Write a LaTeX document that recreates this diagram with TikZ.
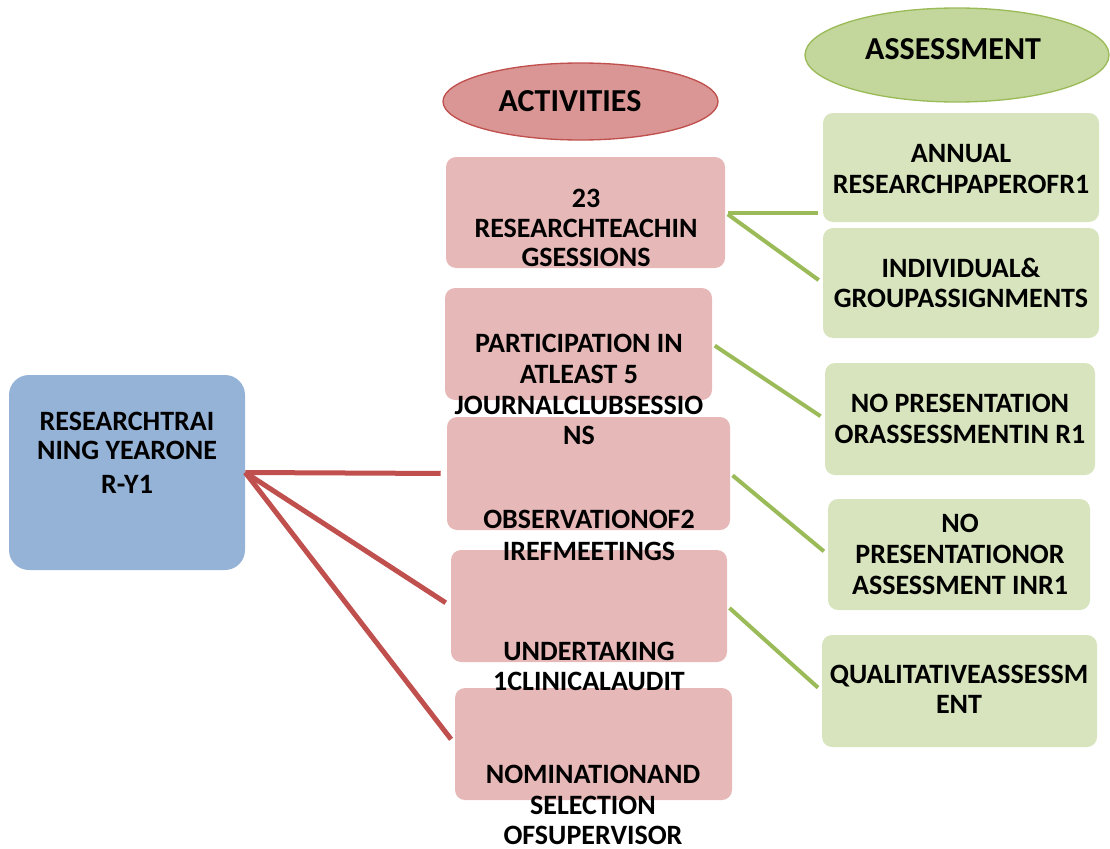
\documentclass[tikz,border=0pt]{standalone}
\usepackage{fontspec}
\setmainfont{Carlito}
\usetikzlibrary{shapes.geometric}

\definecolor{bluefill}{HTML}{95B3D7}
\definecolor{pinkfill}{HTML}{E6B9B8}
\definecolor{redhead}{HTML}{D99694}
\definecolor{redline}{HTML}{C0504D}
\definecolor{greenhead}{HTML}{C3D69B}
\definecolor{greenline}{HTML}{9BBB59}
\definecolor{greenfill}{HTML}{D7E4BD}

\tikzset{
  sz/.style 2 args={minimum width=#1*0.75pt, minimum height=#2*0.75pt, inner sep=0pt},
  mainbox/.style={draw=none, fill=bluefill, rounded corners=15pt},
  actbox/.style={draw=none, fill=pinkfill, rounded corners=7.5pt},
  assbox/.style={draw=none, fill=greenfill, rounded corners=7.5pt},
  acthead/.style={ellipse, draw=redline, line width=1pt, fill=redhead, inner sep=0pt},
  asshead/.style={ellipse, draw=greenline, line width=1pt, fill=greenhead, inner sep=0pt},
  txt/.style={anchor=base, inner sep=0pt, font=\bfseries\fontsize{21pt}{23pt}\selectfont},
  headtxt/.style={anchor=base, inner sep=0pt, font=\bfseries\fontsize{24pt}{27pt}\selectfont},
  redlink/.style={draw=redline, line width=3.75pt, shorten >=4.5pt},
  greenlink/.style={draw=greenline, line width=3pt, shorten <=2.25pt, shorten >=3.75pt}
}

\begin{document}
\begin{tikzpicture}[x=0.75pt, y=-0.75pt]
\useasboundingbox (0,0) rectangle (1110,849);

% headings
\node[acthead, minimum width=275*0.75pt, minimum height=77*0.75pt] (acth) at (580.5,101.5) {};
\node[asshead, minimum width=304*0.75pt, minimum height=94*0.75pt] (assh) at (957,55) {};
\node[headtxt] (acthT) at (570,112) {ACTIVITIES};
\node[headtxt] (asshT) at (953,60) {ASSESSMENT};

% boxes
\node[mainbox, sz={236}{195}] (ry) at (127,472.5) {};
\node[actbox, sz={279}{111}] (p1) at (585.5,212.5) {};
\node[actbox, sz={267}{112}] (p2) at (578.5,344) {};
\node[actbox, sz={283}{113}] (p3) at (588.5,473.5) {};
\node[actbox, sz={276}{112}] (p4) at (589,606) {};
\node[actbox, sz={277}{112}] (p5) at (593.5,744) {};
\node[assbox, sz={276}{109}] (g1) at (961,167.5) {};
\node[assbox, sz={276}{110}] (g2) at (961,283) {};
\node[assbox, sz={270}{112}] (g3) at (960,419) {};
\node[assbox, sz={262}{111}] (g4) at (959,554.5) {};
\node[assbox, sz={275}{112}] (g5) at (959.5,691) {};

% connectors
\draw[redlink] (ry.east) -- (p3.west);
\draw[redlink] (ry.east) -- (p4.west);
\draw[redlink] (ry.east) -- (p5.west);
\coordinate (g1in) at (p1.east -| g1.west);
\draw[greenlink] (p1.east) -- (g1in);
\draw[greenlink] (p1.east) -- (g2.west);
\draw[greenlink] (p2.east) -- (g3.west);
\draw[greenlink] (p3.east) -- (g4.west);
\draw[greenlink] (p4.east) -- (g5.west);

% texts of the main box
\node[txt] (ryA) at (127,430) {RESEARCHTRAI};
\node[txt] (ryB) at (127,459) {NING YEARONE};
\node[txt] (ryC) at (127,493) {R-Y1};

% activity texts
\node[txt] (p1A) at (586,207) {23};
\node[txt] (p1B) at (586,237) {RESEARCHTEACHIN};
\node[txt] (p1C) at (586,266) {GSESSIONS};
\node[txt] (p2A) at (579,352) {PARTICIPATION IN};
\node[txt] (p2B) at (579,383) {ATLEAST 5};
\node[txt] (p2C) at (579,414) {JOURNALCLUBSESSIO};
\node[txt] (p2D) at (579,444) {NS};
\node[txt] (p3A) at (589,528) {OBSERVATIONOF2};
\node[txt] (p3B) at (589,560) {IREFMEETINGS};
\node[txt] (p4A) at (589,660) {UNDERTAKING};
\node[txt] (p4B) at (589,690) {1CLINICALAUDIT};
\node[txt] (p5A) at (593,783) {NOMINATIONAND};
\node[txt] (p5B) at (593,814) {SELECTION};
\node[txt] (p5C) at (593,844) {OFSUPERVISOR};

% assessment texts
\node[txt] (g1A) at (961,162) {ANNUAL};
\node[txt] (g1B) at (961,193) {RESEARCHPAPEROFR1};
\node[txt] (g2A) at (961,277) {INDIVIDUAL\&};
\node[txt] (g2B) at (961,307) {GROUPASSIGNMENTS};
\node[txt] (g3A) at (960,412) {NO PRESENTATION};
\node[txt] (g3B) at (960,443) {ORASSESSMENTIN R1};
\node[txt] (g4A) at (960,532) {NO};
\node[txt] (g4B) at (960,563) {PRESENTATIONOR};
\node[txt] (g4C) at (960,594) {ASSESSMENT INR1};
\node[txt] (g5A) at (959,683) {QUALITATIVEASSESSM};
\node[txt] (g5B) at (959,713) {ENT};
\end{tikzpicture}
\end{document}
